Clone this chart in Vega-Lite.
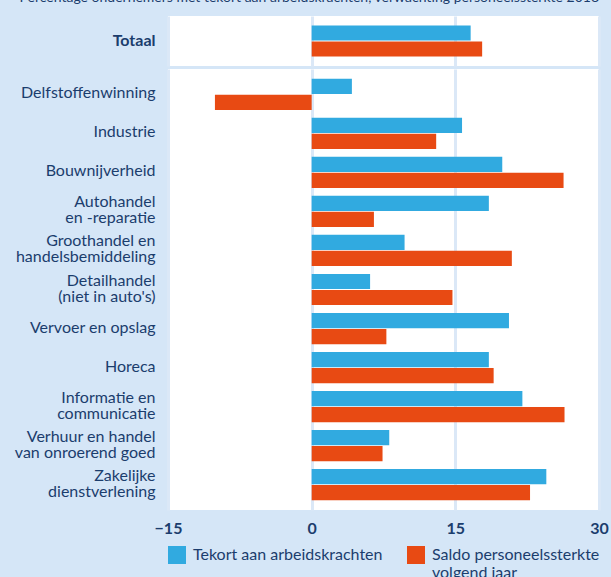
{
  "$schema": "https://vega.github.io/schema/vega-lite/v6.json",
  "background": "#d5e6f7",
  "padding": {"left": 14, "top": -9, "right": 20, "bottom": 10},
  "config": {
    "view": {"stroke": null, "fill": "#ffffff"},
    "font": "Lato",
    "axis": {"labelColor": "#1b3d6d", "domain": false, "ticks": false, "tickSize": 0, "gridColor": "#dbe8f7", "gridWidth": 3}
  },
  "datasets": {
    "rows": [
      {"cat": "Totaal", "series": "Tekort aan arbeidskrachten", "value": 16.6},
      {"cat": "Totaal", "series": "Saldo personeelssterkte volgend jaar", "value": 17.8},
      {"cat": "Delfstoffenwinning", "series": "Tekort aan arbeidskrachten", "value": 4.2},
      {"cat": "Delfstoffenwinning", "series": "Saldo personeelssterkte volgend jaar", "value": -10.1},
      {"cat": "Industrie", "series": "Tekort aan arbeidskrachten", "value": 15.7},
      {"cat": "Industrie", "series": "Saldo personeelssterkte volgend jaar", "value": 13.0},
      {"cat": "Bouwnijverheid", "series": "Tekort aan arbeidskrachten", "value": 19.9},
      {"cat": "Bouwnijverheid", "series": "Saldo personeelssterkte volgend jaar", "value": 26.3},
      {"cat": "Autohandel\nen -reparatie", "series": "Tekort aan arbeidskrachten", "value": 18.5},
      {"cat": "Autohandel\nen -reparatie", "series": "Saldo personeelssterkte volgend jaar", "value": 6.5},
      {"cat": "Groothandel en\nhandelsbemiddeling", "series": "Tekort aan arbeidskrachten", "value": 9.7},
      {"cat": "Groothandel en\nhandelsbemiddeling", "series": "Saldo personeelssterkte volgend jaar", "value": 20.9},
      {"cat": "Detailhandel\n(niet in auto's)", "series": "Tekort aan arbeidskrachten", "value": 6.1},
      {"cat": "Detailhandel\n(niet in auto's)", "series": "Saldo personeelssterkte volgend jaar", "value": 14.7},
      {"cat": "Vervoer en opslag", "series": "Tekort aan arbeidskrachten", "value": 20.6},
      {"cat": "Vervoer en opslag", "series": "Saldo personeelssterkte volgend jaar", "value": 7.8},
      {"cat": "Horeca", "series": "Tekort aan arbeidskrachten", "value": 18.5},
      {"cat": "Horeca", "series": "Saldo personeelssterkte volgend jaar", "value": 19.0},
      {"cat": "Informatie en\ncommunicatie", "series": "Tekort aan arbeidskrachten", "value": 22.0},
      {"cat": "Informatie en\ncommunicatie", "series": "Saldo personeelssterkte volgend jaar", "value": 26.4},
      {"cat": "Verhuur en handel\nvan onroerend goed", "series": "Tekort aan arbeidskrachten", "value": 8.1},
      {"cat": "Verhuur en handel\nvan onroerend goed", "series": "Saldo personeelssterkte volgend jaar", "value": 7.4},
      {"cat": "Zakelijke\ndienstverlening", "series": "Tekort aan arbeidskrachten", "value": 24.5},
      {"cat": "Zakelijke\ndienstverlening", "series": "Saldo personeelssterkte volgend jaar", "value": 22.8}
    ]
  },
  "spacing": 3,
  "vconcat": [
    {
      "width": 431,
      "height": 50,
      "title": {"text": "Percentage ondernemers met tekort aan arbeidskrachten, verwachting personeelssterkte 2018", "anchor": "end", "frame": "group", "fontSize": 14, "fontWeight": "normal", "color": "#1b3d6d", "baseline": "alphabetic", "offset": 0},
      "data": {"name": "rows"},
      "transform": [{"filter": "datum.cat == 'Totaal'"}],
      "mark": {"type": "bar"},
      "encoding": {
        "y": {"field": "cat", "type": "nominal", "title": null, "sort": null,
              "scale": {"paddingInner": 0.2, "paddingOuter": 0.25},
              "axis": {"labelFontSize": 16, "labelFontWeight": "bold", "labelPadding": 13, "minExtent": 145, "maxExtent": 145, "labelLimit": 200}},
        "yOffset": {"field": "series", "type": "nominal", "sort": ["Tekort aan arbeidskrachten", "Saldo personeelssterkte volgend jaar"], "scale": {"paddingInner": 0.05}},
        "x": {"field": "value", "type": "quantitative", "title": null,
              "scale": {"domain": [-15, 30], "nice": false, "zero": false},
              "axis": {"labels": false, "grid": true, "values": [-15, 0, 15, 30]}},
        "color": {"field": "series", "type": "nominal", "sort": ["Tekort aan arbeidskrachten", "Saldo personeelssterkte volgend jaar"],
                  "scale": {"domain": ["Tekort aan arbeidskrachten", "Saldo personeelssterkte volgend jaar"], "range": ["#31aae0", "#e84a13"]},
                  "legend": null}
      }
    },
    {
      "width": 431,
      "height": 441,
      "data": {"name": "rows"},
      "transform": [{"filter": "datum.cat != 'Totaal'"}],
      "mark": {"type": "bar"},
      "encoding": {
        "y": {"field": "cat", "type": "nominal", "title": null, "sort": null,
              "scale": {"paddingInner": 0.2, "paddingOuter": 0.25},
              "axis": {"labelFontSize": 16, "labelPadding": 13, "minExtent": 145, "maxExtent": 145, "labelLimit": 200, "labelLineHeight": 16,
                       "labelOffset": {"condition": {"test": "indexof(datum.value, '\\n') >= 0", "value": -9}, "value": -1},
                       "labelExpr": "split(datum.label, '\\n')"}},
        "yOffset": {"field": "series", "type": "nominal", "sort": ["Tekort aan arbeidskrachten", "Saldo personeelssterkte volgend jaar"], "scale": {"paddingInner": 0.05}},
        "x": {"field": "value", "type": "quantitative", "title": null,
              "scale": {"domain": [-15, 30], "nice": false, "zero": false},
              "axis": {"grid": true, "values": [-15, 0, 15, 30], "labelFontSize": 16, "labelFontWeight": "bold", "labelPadding": 10, "labelFlush": false}},
        "color": {"field": "series", "type": "nominal", "sort": ["Tekort aan arbeidskrachten", "Saldo personeelssterkte volgend jaar"],
                  "scale": {"domain": ["Tekort aan arbeidskrachten", "Saldo personeelssterkte volgend jaar"], "range": ["#31aae0", "#e84a13"]},
                  "legend": {"orient": "bottom", "direction": "horizontal", "title": null, "symbolType": "square", "symbolSize": 324, "symbolStrokeWidth": 0,
                             "labelFontSize": 16, "labelColor": "#1b3d6d", "labelOffset": 7, "columnPadding": 24, "labelLimit": 300, "offset": 10,
                             "labelExpr": "datum.label == 'Saldo personeelssterkte volgend jaar' ? ['Saldo personeelssterkte', 'volgend jaar'] : [datum.label, '']"}}
      }
    }
  ],
  "resolve": {"scale": {"color": "independent", "x": "independent", "y": "independent", "yOffset": "independent"}}
}
